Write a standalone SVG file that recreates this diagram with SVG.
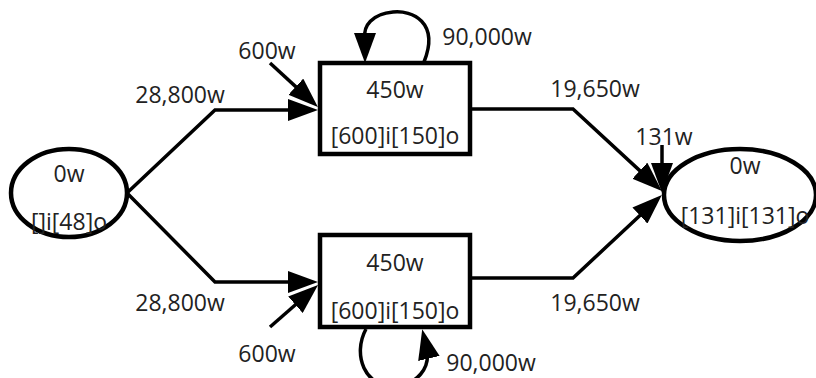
<svg xmlns="http://www.w3.org/2000/svg" width="816" height="378" viewBox="0 0 816 378">
<style>
text{font-family:"Open Sans","Noto Sans","DejaVu Sans",sans-serif;font-size:23px;fill:#222;text-anchor:middle}
.node{fill:#fff;stroke:#000;stroke-width:4.5}
.edge{fill:none;stroke:#000;stroke-width:3.5;marker-end:url(#ah)}
</style>
<defs>
<marker id="ah" markerUnits="userSpaceOnUse" markerWidth="30" markerHeight="22" refX="22" refY="11" orient="auto">
<path d="M0,0 L30,11 L0,22 z" fill="#000"/>
</marker>
</defs>
<rect width="816" height="378" fill="#fff"/>
<g id="connectors">
<path class="edge" d="M128,192 L215,110 L310,110"/>
<path class="edge" d="M128,194 L215,282 L310,282"/>
<path class="edge" d="M270,63 L312,101.6"/>
<path class="edge" d="M270,327 L312,290.3"/>
<path class="edge" d="M470,109 L573,109 L656,185.6"/>
<path class="edge" d="M470,278 L573,278 L656,200.5"/>
<path class="edge" d="M662,145 L662,185"/>
<path class="edge" d="M424,62 C440,22 412,10 393,12 C372,14 363,26 365,38 L365,55"/>
<path class="edge" d="M366,329 C352,355 365,388 395,386 C418,384 430,368 427,350 L424,337"/>
</g>
<g id="n_source">
<ellipse class="node" cx="69" cy="193" rx="58" ry="44" stroke-width="3.5"/>
<text x="69" y="182">0w</text>
<text x="69" y="230">[]i[48]o</text>
</g>
<g id="n_top">
<rect class="node" x="320" y="63" width="150" height="91"/>
<text x="395" y="98">450w</text>
<text x="395" y="144">[600]i[150]o</text>
</g>
<g id="n_bottom">
<rect class="node" x="320" y="235" width="150" height="92"/>
<text x="395" y="271">450w</text>
<text x="395" y="319">[600]i[150]o</text>
</g>
<g id="n_sink">
<ellipse class="node" cx="740" cy="195" rx="76" ry="46" stroke-width="3.5"/>
<text x="745" y="174">0w</text>
<text x="745" y="224">[131]i[131]o</text>
</g>
<g id="labels">
<text x="180" y="103">28,800w</text>
<text x="180" y="311">28,800w</text>
<text x="267" y="59">600w</text>
<text x="267" y="362">600w</text>
<text x="487" y="45">90,000w</text>
<text x="491" y="371">90,000w</text>
<text x="595" y="97">19,650w</text>
<text x="595" y="311">19,650w</text>
<text x="664" y="145">131w</text>
</g>
</svg>
